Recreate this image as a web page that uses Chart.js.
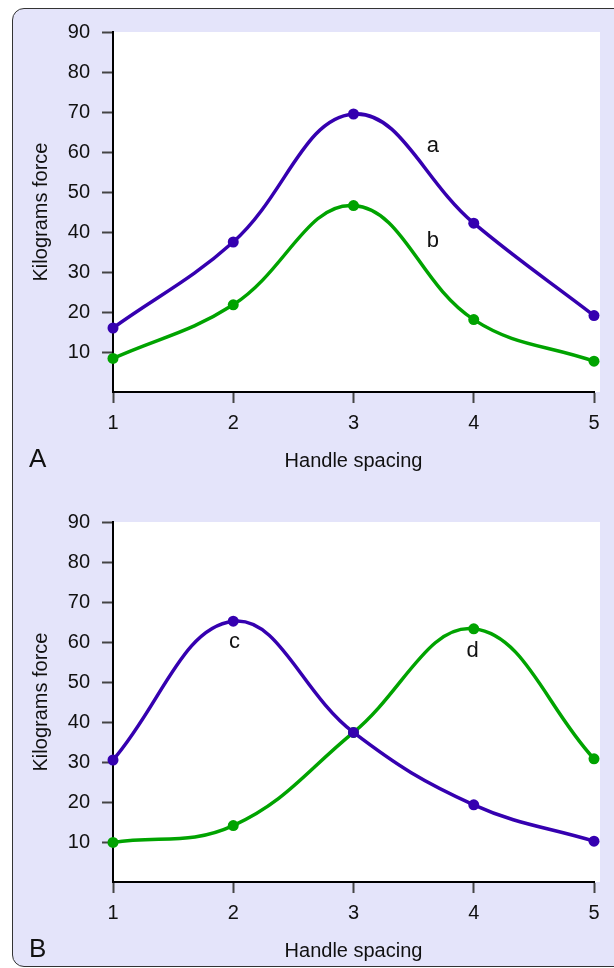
<!DOCTYPE html>
<html>
<head>
<meta charset="utf-8">
<script src="https://cdn.jsdelivr.net/npm/chart.js@4.4.1/dist/chart.umd.min.js"></script>
<style>
html, body { margin: 0; padding: 0; background: #fff; width: 614px; height: 968px; overflow: hidden; }
#panel { position: absolute; left: 12px; top: 8px; width: 640px; height: 959px; box-sizing: border-box;
  border: 1.5px solid #333; border-radius: 12px; background: #E4E4FA; }
canvas { position: absolute; left: 0; }
#chartA { top: 0; }
#chartB { top: 490px; }
</style>
</head>
<body>
<div id="panel"></div>
<canvas id="chartA" width="614" height="480"></canvas>
<canvas id="chartB" width="614" height="480"></canvas>
<script>
// values
var handleSpacing = [1, 2, 3, 4, 5];
var forceA = [16, 37.5, 69.5, 42.2, 19.1];
var forceB = [8.4, 21.8, 46.6, 18.1, 7.7];
var forceC = [30.5, 65.2, 37.4, 19.3, 10.2];
var forceD = [9.9, 14.1, 37.4, 63.3, 30.8];
var yTickMax = 90;
var yTickStep = 10;
var xTitle = 'Handle spacing';
var yTitle = 'Kilograms force';

var curveLabelsA = [{text: 'a', x: 3.66, y: 61.6}, {text: 'b', x: 3.66, y: 37.8}];
var curveLabelsB = [{text: 'c', x: 2.01, y: 60}, {text: 'd', x: 3.99, y: 57.7}];

var BLUE = '#3500B0';
var GREEN = '#00A300';
var FONT = "'Liberation Sans', Arial, sans-serif";

function points(values) {
    return values.map(function(v, i) { return {x: handleSpacing[i], y: v}; });
}

function series(values, color) {
    return {
        data: points(values),
        borderColor: color,
        backgroundColor: color,
        borderWidth: 3.5,
        pointRadius: 5.5,
        pointBorderWidth: 0,
        tension: 0.4,
        clip: false,
        fill: false
    };
}

// white plot area, a little wider than the x axis
var plotBg = {
    id: 'plotBg',
    beforeDraw: function(chart) {
        var a = chart.chartArea, ctx = chart.ctx;
        ctx.save();
        ctx.fillStyle = '#fff';
        ctx.fillRect(a.left, a.top, a.right - a.left + 6, a.bottom - a.top);
        ctx.restore();
    }
};

// curve letters and the panel letter
var textMarks = {
    id: 'textMarks',
    afterDatasetsDraw: function(chart, args, opts) {
        var ctx = chart.ctx, xs = chart.scales.x, ys = chart.scales.y;
        ctx.save();
        ctx.fillStyle = '#111';
        ctx.font = '22px ' + FONT;
        ctx.textAlign = 'center';
        ctx.textBaseline = 'middle';
        opts.labels.forEach(function(l) {
            ctx.fillText(l.text, xs.getPixelForValue(l.x), ys.getPixelForValue(l.y));
        });
        ctx.font = '26px ' + FONT;
        ctx.textAlign = 'left';
        ctx.textBaseline = 'alphabetic';
        ctx.fillText(opts.panel, 29, 467);
        ctx.restore();
    }
};

function makeChart(id, datasets, labels, panel) {
    return new Chart(document.getElementById(id), {
        type: 'line',
        data: {datasets: datasets},
        plugins: [plotBg, textMarks],
        options: {
            responsive: false,
            animation: false,
            events: [],
            layout: {padding: {left: 0, top: 32, right: 20, bottom: 0}},
            plugins: {
                legend: {display: false},
                tooltip: {enabled: false},
                textMarks: {labels: labels, panel: panel}
            },
            scales: {
                x: {
                    type: 'linear',
                    min: 1, max: 5,
                    afterFit: function(s) { s.height = 88; },
                    ticks: {stepSize: 1, padding: 8, color: '#111', font: {family: FONT, size: 20}},
                    grid: {drawOnChartArea: false, tickLength: 11, tickColor: '#444', tickWidth: 2},
                    border: {color: '#000', width: 2},
                    title: {display: true, text: xTitle, color: '#111', padding: {top: 0, bottom: 7},
                            font: {family: FONT, size: 20}}
                },
                y: {
                    min: 0, max: yTickMax,
                    afterFit: function(s) { s.width = 113; },
                    ticks: {
                        stepSize: yTickStep, padding: 12, color: '#111', font: {family: FONT, size: 20},
                        callback: function(v) { return v === 0 ? '' : v; }
                    },
                    grid: {
                        drawOnChartArea: false, tickLength: 11, tickWidth: 2,
                        tickColor: function(c) { return c.tick && c.tick.value === 0 ? 'rgba(0,0,0,0)' : '#444'; }
                    },
                    border: {color: '#000', width: 2},
                    title: {display: true, text: yTitle, color: '#111', padding: {top: 29, bottom: 0},
                            font: {family: FONT, size: 20}}
                }
            }
        }
    });
}

makeChart('chartA', [series(forceA, BLUE), series(forceB, GREEN)], curveLabelsA, 'A');
makeChart('chartB', [series(forceC, BLUE), series(forceD, GREEN)], curveLabelsB, 'B');
</script>
</body>
</html>
